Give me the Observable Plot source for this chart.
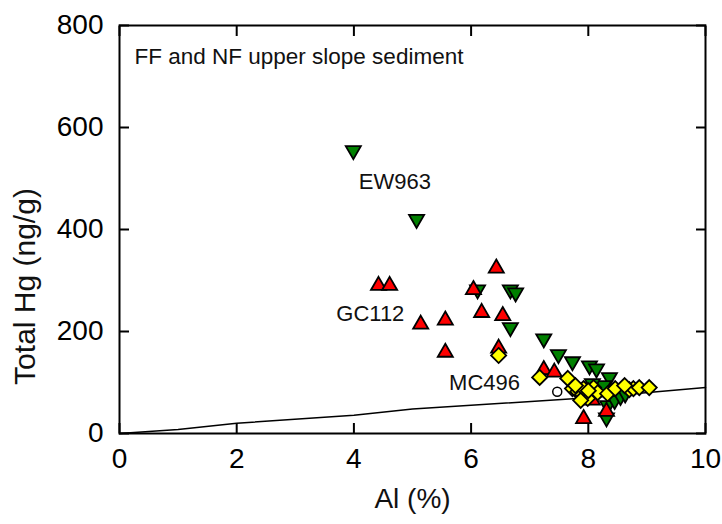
<!DOCTYPE html>
<html><head><meta charset="utf-8">
<script src="https://cdn.jsdelivr.net/npm/d3@7"></script>
<script src="https://cdn.jsdelivr.net/npm/@observablehq/plot@0.6"></script>
<style>body{margin:0;background:#fff;font-family:"Liberation Sans",Arial,sans-serif}</style>
</head><body><div id="chart"></div>
<script>
// Axis ticks
const xTicks = [0, 2, 4, 6, 8, 10];
const yTicks = [0, 200, 400, 600, 800];
const xTitle = "Al (%)";
const yTitle = "Total Hg (ng/g)";

// EW963 (green, down triangles)
const ew963Al = [3.99, 5.07, 6.11, 6.67, 6.76, 6.67, 7.24, 7.49, 7.73, 8.02, 8.14, 8.36, 8.26, 8.33, 8.45, 8.55, 8.63, 8.31, 8.07];
const ew963Hg = [555, 420, 282, 282, 276, 208, 186, 155, 141, 133, 127, 110, 94, 55, 65, 73, 78, 31, 98];

// GC112 (red, up triangles)
const gc112Al = [4.42, 4.61, 5.14, 5.56, 5.56, 6.04, 6.18, 6.43, 6.54, 6.47, 7.24, 7.42, 8.07, 7.92, 8.31];
const gc112Hg = [290, 290, 214, 222, 159, 282, 237, 324, 231, 167, 125, 120, 65, 29, 43];

// MC496 (yellow diamonds)
const mc496Al = [6.47, 7.17, 7.65, 7.73, 7.82, 7.90, 7.99, 7.92, 8.09, 8.16, 8.33, 8.46, 8.70, 8.77, 8.87, 9.04, 7.78, 7.87, 8.00, 8.62];
const mc496Hg = [153, 110, 108, 88, 82, 76, 69, 88, 90, 80, 78, 88, 86, 88, 90, 90, 94, 65, 84, 94];

// Other samples (open circles)
const otherAl = [7.47, 8.50];
const otherHg = [82, 88];

// Crustal baseline
const baseAl = [0, 1, 2, 4, 5, 8, 10];
const baseHg = [0, 8, 20, 36, 48, 70, 90];

// Annotations
const labelNames = ["EW963", "GC112", "MC496"];
const labelAl = [4.70, 4.28, 6.23];
const labelHg = [494, 235, 100];
const panelTitle = "FF and NF upper slope sediment";

const zip = (xs, ys) => xs.map((x, i) => ({x, y: ys[i]}));
const ew963 = zip(ew963Al, ew963Hg);
const gc112 = zip(gc112Al, gc112Hg);
const mc496 = zip(mc496Al, mc496Hg);
const other = zip(otherAl, otherHg);
const base = zip(baseAl, baseHg);
const labels = labelNames.map((t, i) => ({t, x: labelAl[i], y: labelHg[i]}));

const triangleDown = {
  draw(context, size) {
    const y = Math.sqrt(size / (Math.sqrt(3) * 3));
    context.moveTo(0, y * 2);
    context.lineTo(-Math.sqrt(3) * y, -y);
    context.lineTo(Math.sqrt(3) * y, -y);
    context.closePath();
  }
};

const chart = Plot.plot({
  width: 722,
  height: 524,
  marginLeft: 119,
  marginRight: 17,
  marginTop: 25,
  marginBottom: 91,
  style: {fontFamily: "'Liberation Sans', Arial, sans-serif", background: "white", color: "black", overflow: "visible"},
  x: {domain: [0, 10]},
  y: {domain: [0, 800]},
  marks: [
    Plot.axisX({ticks: xTicks, anchor: "bottom", tickSize: -10, tickPadding: 25, strokeWidth: 2, fontSize: 28, label: null}),
    Plot.axisX({ticks: xTicks, anchor: "top", tickSize: -10, strokeWidth: 2, tickFormat: () => "", label: null}),
    Plot.axisY({ticks: yTicks, anchor: "left", tickSize: -10, tickPadding: 26, strokeWidth: 2, fontSize: 28, label: null}),
    Plot.axisY({ticks: yTicks, anchor: "right", tickSize: -10, strokeWidth: 2, tickFormat: () => "", label: null}),
    Plot.text([xTitle], {frameAnchor: "bottom", dy: 66, lineAnchor: "middle", fontSize: 28, fill: "#111"}),
    Plot.text([yTitle], {frameAnchor: "bottom-left", dx: -94, dy: -147, rotate: -90, textAnchor: "middle", lineAnchor: "middle", fontSize: 30, fill: "#111"}),
    Plot.line(base, {x: "x", y: "y", stroke: "black", strokeWidth: 1.5}),
    Plot.dot(other, {x: "x", y: "y", r: 4.5, fill: "white", stroke: "black", strokeWidth: 1.5}),
    Plot.dot(ew963, {x: "x", y: "y", symbol: triangleDown, r: 5.6, fill: "#008000", stroke: "black", strokeWidth: 1.8}),
    Plot.dot(gc112, {x: "x", y: "y", symbol: "triangle", r: 5.6, fill: "#ff0000", stroke: "black", strokeWidth: 1.8}),
    Plot.dot(mc496, {x: "x", y: "y", symbol: "diamond2", r: 6.8, fill: "#ffff00", stroke: "black", strokeWidth: 1.8}),
    Plot.text(labels, {x: "x", y: "y", text: "t", fontSize: 22, fill: "#111"}),
    Plot.text([panelTitle], {frameAnchor: "top-left", dx: 15, dy: 31, textAnchor: "start", lineAnchor: "middle", fontSize: 22.5, fill: "#111"}),
    Plot.frame({stroke: "black", strokeWidth: 2})
  ]
});
document.getElementById("chart").appendChild(chart);
</script>
</body></html>
